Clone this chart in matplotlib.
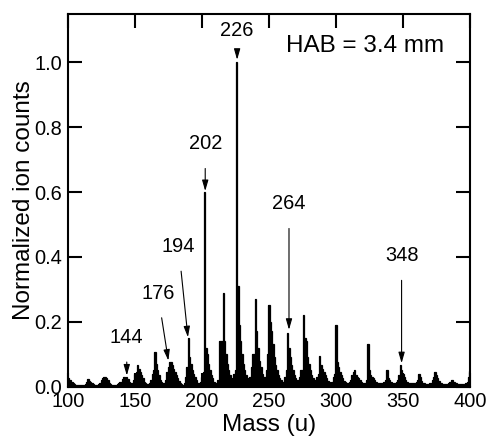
import matplotlib.pyplot as plt
import numpy as np

plt.rcParams['font.family'] = ['Liberation Sans', 'DejaVu Sans']

# mass axis, one value per unit mass 100..400
mass = np.arange(100, 401)

# normalized ion counts, rows of ten masses
counts = [
    0.025, 0.02, 0.02, 0.015, 0.01, 0.008, 0.006, 0.005, 0.005, 0.005,      # 100
    0.005, 0.005, 0.006, 0.008, 0.015, 0.022, 0.018, 0.014, 0.01, 0.008,    # 110
    0.006, 0.005, 0.006, 0.008, 0.01, 0.02, 0.026, 0.03, 0.03, 0.025,       # 120
    0.02, 0.012, 0.008, 0.006, 0.005, 0.005, 0.006, 0.008, 0.012, 0.015,    # 130
    0.015, 0.022, 0.028, 0.025, 0.03, 0.022, 0.015, 0.01, 0.012, 0.02,      # 140
    0.04, 0.045, 0.065, 0.055, 0.045, 0.035, 0.025, 0.015, 0.01, 0.008,     # 150
    0.008, 0.01, 0.02, 0.04, 0.05, 0.105, 0.07, 0.05, 0.035, 0.02,          # 160
    0.015, 0.01, 0.01, 0.02, 0.045, 0.06, 0.075, 0.075, 0.065, 0.055,       # 170
    0.045, 0.035, 0.025, 0.018, 0.012, 0.008, 0.006, 0.01, 0.03, 0.06,      # 180
    0.15, 0.09, 0.07, 0.05, 0.04, 0.03, 0.02, 0.012, 0.01, 0.015,           # 190
    0.03, 0.045, 0.6, 0.12, 0.1, 0.07, 0.05, 0.035, 0.025, 0.015,           # 200
    0.01, 0.012, 0.02, 0.14, 0.14, 0.14, 0.29, 0.14, 0.1, 0.07,             # 210
    0.05, 0.035, 0.025, 0.02, 0.04, 0.05, 1.0, 0.31, 0.19, 0.14,            # 220
    0.1, 0.07, 0.05, 0.035, 0.025, 0.02, 0.03, 0.06, 0.1, 0.1,              # 230
    0.27, 0.17, 0.12, 0.08, 0.06, 0.04, 0.03, 0.03, 0.05, 0.1,              # 240
    0.25, 0.2, 0.17, 0.13, 0.09, 0.065, 0.05, 0.035, 0.025, 0.02,           # 250
    0.015, 0.015, 0.03, 0.05, 0.165, 0.12, 0.09, 0.065, 0.05, 0.035,        # 260
    0.025, 0.02, 0.02, 0.03, 0.05, 0.05, 0.22, 0.15, 0.14, 0.09,            # 270
    0.07, 0.05, 0.035, 0.025, 0.02, 0.02, 0.03, 0.04, 0.095, 0.065,         # 280
    0.055, 0.045, 0.035, 0.025, 0.018, 0.015, 0.012, 0.015, 0.03, 0.04,     # 290
    0.19, 0.075, 0.06, 0.045, 0.035, 0.025, 0.018, 0.014, 0.012, 0.012,     # 300
    0.015, 0.02, 0.035, 0.045, 0.05, 0.035, 0.03, 0.025, 0.02, 0.015,       # 310
    0.012, 0.01, 0.012, 0.02, 0.13, 0.05, 0.035, 0.03, 0.025, 0.02,         # 320
    0.015, 0.012, 0.01, 0.01, 0.01, 0.012, 0.015, 0.02, 0.05, 0.025,        # 330
    0.02, 0.015, 0.012, 0.012, 0.012, 0.015, 0.02, 0.035, 0.065, 0.05,      # 340
    0.04, 0.03, 0.02, 0.015, 0.012, 0.01, 0.01, 0.01, 0.01, 0.012,          # 350
    0.015, 0.02, 0.04, 0.03, 0.018, 0.012, 0.01, 0.008, 0.008, 0.008,       # 360
    0.01, 0.012, 0.02, 0.03, 0.045, 0.035, 0.025, 0.018, 0.012, 0.01,       # 370
    0.008, 0.008, 0.008, 0.008, 0.01, 0.015, 0.02, 0.02, 0.015, 0.012,      # 380
    0.01, 0.008, 0.008, 0.008, 0.008, 0.008, 0.008, 0.01, 0.015, 0.03,      # 390
    0.048,                                                                  # 400
]

# labelled peaks: label, arrow tip (mass, value), label position (mass, value)
peak_labels = ['144', '176', '194', '202', '226', '264', '348']
tip_xy = [(144, 0.034), (175, 0.08), (189.6, 0.152), (202.5, 0.603),
          (226.3, 1.008), (265, 0.175), (349, 0.072)]
text_xy = [(143.9, 0.152), (167.1, 0.288), (182.6, 0.432), (202.5, 0.749),
           (226.3, 1.097), (265, 0.564), (349, 0.404)]

fig = plt.figure(figsize=(4.88, 4.36), dpi=100)
ax = fig.add_axes([0.139, 0.1135, 0.824, 0.855])

# unit-resolution spectrum drawn as a filled step outline
edges = np.append(mass - 0.5, mass[-1] + 0.5)
ax.stairs(counts, edges, fill=True, color='black', linewidth=0.9)
ax.stairs(counts, edges, fill=False, color='black', linewidth=0.9)

for lab, tip, txt in zip(peak_labels, tip_xy, text_xy):
    ax.annotate(lab, xy=tip, xytext=txt, ha='center', va='center',
                fontsize=14.4,
                arrowprops=dict(arrowstyle='-|>,head_length=0.45,head_width=0.13',
                                color='black', lw=0.8, shrinkA=9, shrinkB=0))

ax.text(321.6, 1.052, 'HAB = 3.4 mm', ha='center', va='center', fontsize=17.5)

ax.set_xlim(100, 400)
ax.set_ylim(0, 1.15)
ax.set_xticks([100, 150, 200, 250, 300, 350, 400])
ax.set_yticks([0.0, 0.2, 0.4, 0.6, 0.8, 1.0])
ax.set_yticklabels(['0.0', '0.2', '0.4', '0.6', '0.8', '1.0'])
ax.tick_params(direction='in', length=10, width=1.5, top=True, right=True,
               labelsize=14.4, pad=4)
for s in ax.spines.values():
    s.set_linewidth(1.5)

ax.set_xlabel('Mass (u)', fontsize=17.5, labelpad=2)
ax.set_ylabel('Normalized ion counts', fontsize=17.5, labelpad=-0.5)

fig.savefig('out.png', dpi=100)
